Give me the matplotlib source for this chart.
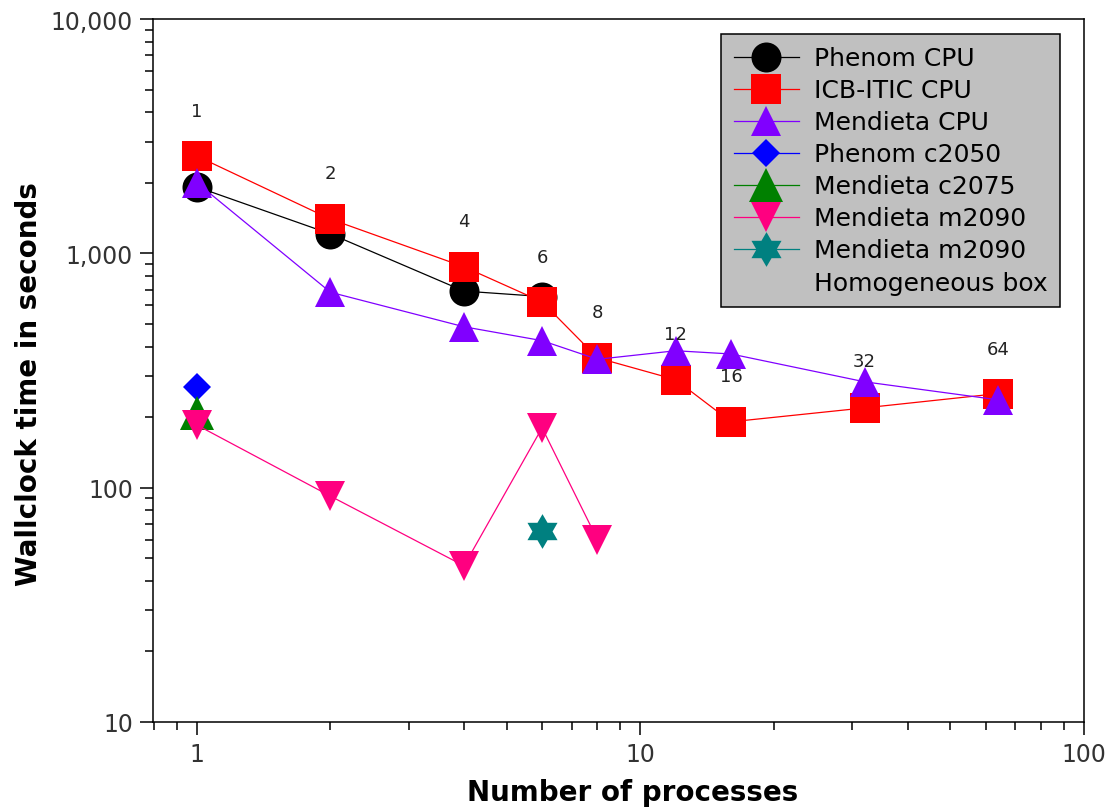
import numpy as np
import matplotlib
matplotlib.use("Agg")
import matplotlib.pyplot as plt
from matplotlib.lines import Line2D
from matplotlib.path import Path
from matplotlib.ticker import FixedLocator, FixedFormatter, NullFormatter

# datos
phenom_cpu_x = [1, 2, 4, 6]
phenom_cpu_y = [1920, 1210, 690, 654]

icb_cpu_x = [1, 2, 4, 6, 8, 12, 16, 32, 64]
icb_cpu_y = [2600, 1400, 876, 621, 358, 289, 191, 219, 252]

mendieta_cpu_x = [1, 2, 4, 6, 8, 12, 16, 32, 64]
mendieta_cpu_y = [2000, 682, 486, 424, 353, 384, 372, 283, 237]

phenom_c2050_x = [1]
phenom_c2050_y = [268]

mendieta_c2075_x = [1]
mendieta_c2075_y = [208]

mendieta_m2090_x = [1, 2, 4, 6, 8]
mendieta_m2090_y = [185, 92, 46.4, 180, 60]

homog_x = [6]
homog_y = [65.3]

# etiquetas con el numero de procesos
proc_labels = ["1", "2", "4", "6", "8", "12", "16", "32", "64"]
proc_label_x = [1, 2, 4, 6, 8, 12, 16, 32, 64]
proc_label_y = [4055, 2203, 1376, 966, 563, 454, 300, 348, 392]

xticks_major = [1, 10, 100]
xtick_labels = ["1", "10", "100"]
yticks_major = [10, 100, 1000, 10000]
ytick_labels = ["10", "100", "1,000", "10,000"]

fig = plt.figure(figsize=(11.19, 8.12), dpi=100)
ax = fig.add_axes([153 / 1119, 1 - 723 / 812, 931 / 1119, 703 / 812])

star6 = Path.unit_regular_star(6, 0.58)

lw = 0.9
ax.plot(phenom_cpu_x, phenom_cpu_y, color="black", lw=lw, marker="o", ms=21.6, mew=0, label="Phenom CPU")
ax.plot(icb_cpu_x, icb_cpu_y, color="#ff0000", lw=lw, marker="s", ms=21.6, mew=0, label="ICB-ITIC CPU")
ax.plot(mendieta_cpu_x, mendieta_cpu_y, color="#8000ff", lw=lw, marker="^", ms=21.6, mew=0, label="Mendieta CPU")
ax.plot(phenom_c2050_x, phenom_c2050_y, color="#0000ff", lw=lw, marker="D", ms=14.3, mew=0, label="Phenom c2050")
ax.plot(mendieta_c2075_x, mendieta_c2075_y, color="#008000", lw=lw, marker="^", ms=25, mew=0, label="Mendieta c2075")
ax.plot(mendieta_m2090_x, mendieta_m2090_y, color="#ff0080", lw=lw, marker="v", ms=21.6, mew=0, label="Mendieta m2090")
ax.plot(homog_x, homog_y, color="#008080", lw=lw, marker=star6, ms=25, mew=0, label="Mendieta m2090")

for t, x, y in zip(proc_labels, proc_label_x, proc_label_y):
    ax.text(x, y, t, ha="center", va="center", fontsize=13, color="#222222")

ax.set_xscale("log")
ax.set_yscale("log")
ax.set_xlim(0.796, 100)
ax.set_ylim(10, 10000)

ax.xaxis.set_major_locator(FixedLocator(xticks_major))
ax.xaxis.set_major_formatter(FixedFormatter(xtick_labels))
ax.yaxis.set_major_locator(FixedLocator(yticks_major))
ax.yaxis.set_major_formatter(FixedFormatter(ytick_labels))
ax.xaxis.set_minor_formatter(NullFormatter())
ax.yaxis.set_minor_formatter(NullFormatter())

ax.tick_params(which="both", direction="out", top=False, right=False, width=1.1, colors="black",
               labelcolor="#333333", labelsize=17)
ax.tick_params(which="major", length=9.4, pad=5)
ax.tick_params(which="minor", length=5.8)
for s in ax.spines.values():
    s.set_linewidth(1.1)

ax.set_xlabel("Number of processes", fontsize=20, fontweight="bold")
ax.set_ylabel("Wallclock time in seconds", fontsize=20, fontweight="bold")
ax.xaxis.set_label_coords((633 - 153) / 931, (723 - 779) / 703)
ax.yaxis.set_label_coords((43 - 153) / 931, (723 - 384) / 703)

handles, labels = ax.get_legend_handles_labels()
handles.append(Line2D([], [], linestyle="none"))
labels.append("Homogeneous box")
leg = ax.legend(handles, labels, loc="upper right", bbox_to_anchor=(1060 / 1119, 1 - 35 / 812),
                bbox_transform=fig.transFigure, borderaxespad=0, fontsize=18, labelspacing=0.32,
                handlelength=2.6, handletextpad=0.6, borderpad=0.5, fancybox=False,
                framealpha=1, facecolor="#c0c0c0", edgecolor="black")
leg.get_frame().set_linewidth(1.1)

fig.savefig("out.png", dpi=100)
